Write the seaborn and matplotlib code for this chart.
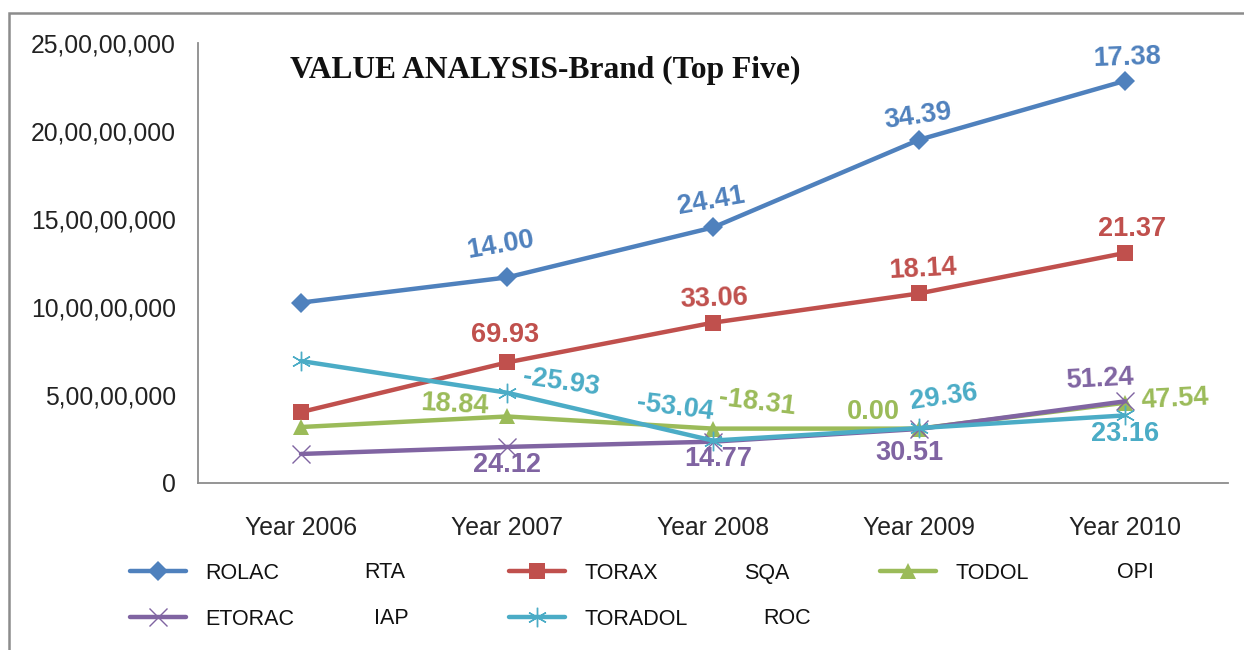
import matplotlib
matplotlib.use("Agg")
import matplotlib.pyplot as plt
import matplotlib.patches as mpatches
from matplotlib.ticker import FuncFormatter, MultipleLocator
import seaborn as sns
import pandas as pd

# ---------------- data ----------------
years = ["Year 2006", "Year 2007", "Year 2008", "Year 2009", "Year 2010"]
brands = ["ROLAC", "TORAX", "TODOL", "ETORAC", "TORADOL"]
codes = ["RTA", "SQA", "OPI", "IAP", "ROC"]

rolac = [10.25e7, 11.68e7, 14.52e7, 19.50e7, 22.85e7]
torax = [4.03e7, 6.85e7, 9.11e7, 10.77e7, 13.07e7]
todol = [3.18e7, 3.78e7, 3.09e7, 3.09e7, 4.56e7]
etorac = [1.65e7, 2.05e7, 2.35e7, 3.07e7, 4.64e7]
toradol = [6.93e7, 5.13e7, 2.41e7, 3.12e7, 3.84e7]

# growth % labels (none for the first year)
rolac_growth = [None, "14.00", "24.41", "34.39", "17.38"]
torax_growth = [None, "69.93", "33.06", "18.14", "21.37"]
todol_growth = [None, "18.84", "-18.31", "0.00", "47.54"]
etorac_growth = [None, "24.12", "14.77", "30.51", "51.24"]
toradol_growth = [None, "-25.93", "-53.04", "29.36", "23.16"]

series = [rolac, torax, todol, etorac, toradol]
growths = [rolac_growth, torax_growth, todol_growth, etorac_growth, toradol_growth]

# ---------------- styles ----------------
colors = ["#4F81BD", "#C0504D", "#9BBB59", "#8064A2", "#4BACC6"]
markers = ["D", "s", "^", "x", (6, 2, 0)]
msizes = [10, 12, 12, 13, 14]
# label offsets in pixels (dx, dy up) and rotation
offsets = [
    [None, (-6, 32, 10), (-2, 26, 10), (-1, 23, 8), (2, 23, 2)],
    [None, (-2, 27, 0), (1, 24, 2), (4, 24, 3), (7, 24, 0)],
    [None, (-52, 12, -3), (44, 26, -7), (-46, 17, 0), (50, 4, 3)],
    [None, (0, -18, 0), (5, -17, 0), (-10, -24, 0), (-25, 22, 3)],
    [None, (54, 10, -8), (-38, 33, -7), (25, 31, 8), (0, -19, 0)],
]

W, H = 1244, 650
sns.set_theme(style="white")
plt.rcParams["font.family"] = ["Liberation Sans", "DejaVu Sans"]

fig = plt.figure(figsize=(W / 100, H / 100), dpi=100)
ax = fig.add_axes([198 / W, 1 - 483 / H, (1228 - 198) / W, (483 - 43) / H])

for name, vals, col, mk, ms in zip(brands, series, colors, markers, msizes):
    df = pd.DataFrame({"year": years, "value": vals})
    filled = mk in ("D", "s", "^")
    sns.lineplot(
        data=df, x="year", y="value", ax=ax, color=col, linewidth=3.2,
        marker=mk, markersize=ms,
        markerfacecolor=col if filled else "none",
        markeredgecolor=col, markeredgewidth=0 if filled else 1.0,
        label=name, legend=False, sort=False,
    )

ax.set_xlim(-0.5, 4.5)
ax.set_ylim(0, 25e7)
ax.yaxis.set_major_locator(MultipleLocator(5e7))


def indian(v, pos=None):
    n = int(round(v))
    s = str(n)
    if len(s) <= 3:
        return s
    last3 = s[-3:]
    rest = s[:-3]
    parts = []
    while len(rest) > 2:
        parts.insert(0, rest[-2:])
        rest = rest[:-2]
    if rest:
        parts.insert(0, rest)
    return ",".join(parts + [last3])


ax.yaxis.set_major_formatter(FuncFormatter(indian))
ax.set_xlabel("")
ax.set_ylabel("")
ax.tick_params(axis="both", length=0, labelsize=17.8, colors="#222222")
ax.tick_params(axis="y", pad=16)
ax.tick_params(axis="x", pad=24)
for sp in ["top", "right"]:
    ax.spines[sp].set_visible(False)
for sp in ["left", "bottom"]:
    ax.spines[sp].set_color("#8c8c8c")
    ax.spines[sp].set_linewidth(1.3)
ax.grid(False)
ax.set_facecolor("white")

# data labels
for vals, labs, offs, col in zip(series, growths, offsets, colors):
    for i, (v, lab, off) in enumerate(zip(vals, labs, offs)):
        if lab is None:
            continue
        dx, dy, rot = off
        ax.annotate(lab, xy=(i, v), xytext=(dx * 0.72, dy * 0.72),
                    textcoords="offset points", ha="center", va="center",
                    fontsize=19.5, fontweight="bold", color=col, rotation=rot,
                    family=["Liberation Sans", "DejaVu Sans"])

# title
fig.text(290 / W, 1 - 70 / H, "VALUE ANALYSIS-Brand (Top Five)",
         ha="left", va="center", fontsize=22.7, fontweight="bold",
         family=["Liberation Serif", "DejaVu Serif"], color="#111111")

# legend: three columns
handles, labels = ax.get_legend_handles_labels()
hmap = dict(zip(labels, handles))
columns = [(["ROLAC", "ETORAC"], 130), (["TORAX", "TORADOL"], 509), (["TODOL"], 880)]
for names, x0 in columns:
    leg = fig.legend([hmap[n] for n in names], names, loc="upper left",
                     bbox_to_anchor=(x0 / W, 1 - 563 / H), frameon=False,
                     fontsize=15.5, handlelength=2.6, handletextpad=0.9,
                     labelspacing=1.15, borderpad=0, borderaxespad=0,
                     numpoints=1)
    for t in leg.get_texts():
        t.set_color("#111111")

code_pos = [(364, 573), (744, 573), (1117, 573), (374, 618), (763, 618)]
for c, (x, y) in zip(codes, code_pos):
    fig.text(x / W, 1 - y / H, c, ha="left", va="center", fontsize=15.5, color="#111111")

# outer frame (left and top edges visible)
frame = mpatches.Rectangle((9 / W, -0.1), 1.2, 1 - 13 / H + 0.1, transform=fig.transFigure,
                           fill=False, edgecolor="#8c8c8c", linewidth=1.8, clip_on=False)
fig.add_artist(frame)

fig.savefig("out.png", dpi=100, facecolor="white")
